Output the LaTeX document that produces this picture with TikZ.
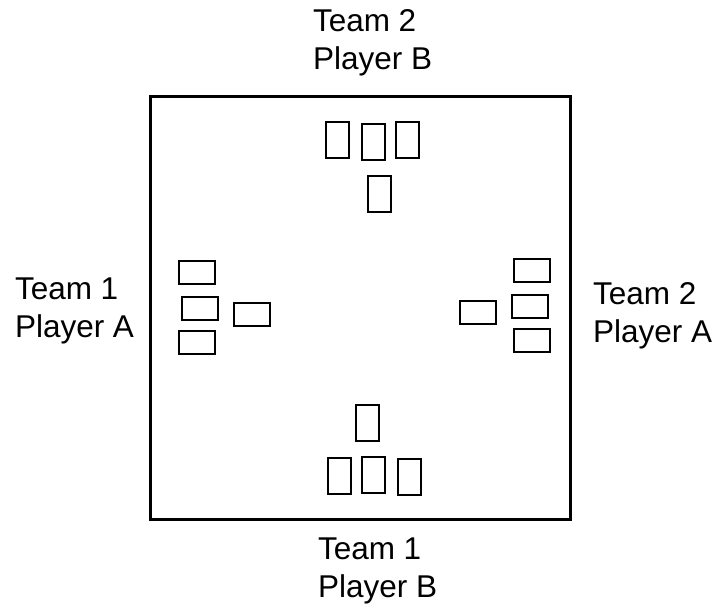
\documentclass[tikz,border=0pt]{standalone}
\usepackage{fontspec}
\setmainfont{Liberation Sans}
\begin{document}
\begin{tikzpicture}[x=1pt,y=-1pt,line width=2pt,
  cardv/.style={draw,inner sep=0pt,minimum width=23pt,minimum height=36pt},
  cardh/.style={draw,inner sep=0pt,minimum width=36pt,minimum height=23pt},
  seat/.style={anchor=base west,align=left,inner sep=0pt,font=\fontsize{31.5}{38}\selectfont}]
  \useasboundingbox (0,0) rectangle (720,604);
  \coordinate (tl) at (150,97);
  \coordinate (br) at (570,519);
  \draw[line width=3pt] (tl) rectangle (br);
  % top hand
  \node[cardv] (t1) at (337.5,140) {};
  \node[cardv] (t2) at (373.5,142) {};
  \node[cardv] (t3) at (407.5,140) {};
  \node[cardv] (t4) at (379.5,194) {};
  % left hand
  \node[cardh] (l1) at (197,272) {};
  \node[cardh] (l2) at (199.5,308.5) {};
  \node[cardh] (l3) at (197,342) {};
  \node[cardh] (l4) at (251.5,314.5) {};
  % right hand
  \node[cardh] (r1) at (531.5,270.5) {};
  \node[cardh] (r2) at (529.5,306) {};
  \node[cardh] (r3) at (531.5,340.5) {};
  \node[cardh] (r4) at (477.5,312) {};
  % bottom hand
  \node[cardv] (b1) at (367.5,422.5) {};
  \node[cardv] (b2) at (339,476) {};
  \node[cardv] (b3) at (373.5,474.5) {};
  \node[cardv] (b4) at (409.5,476.5) {};
  % seats
  \node[seat] (north) at (312,70) {Team 2\\Player B};
  \node[seat] (west) at (14,337) {Team 1\\Player A};
  \node[seat] (east) at (592,342) {Team 2\\Player A};
  \node[seat] (south) at (317,597) {Team 1\\Player B};
\end{tikzpicture}
\end{document}
